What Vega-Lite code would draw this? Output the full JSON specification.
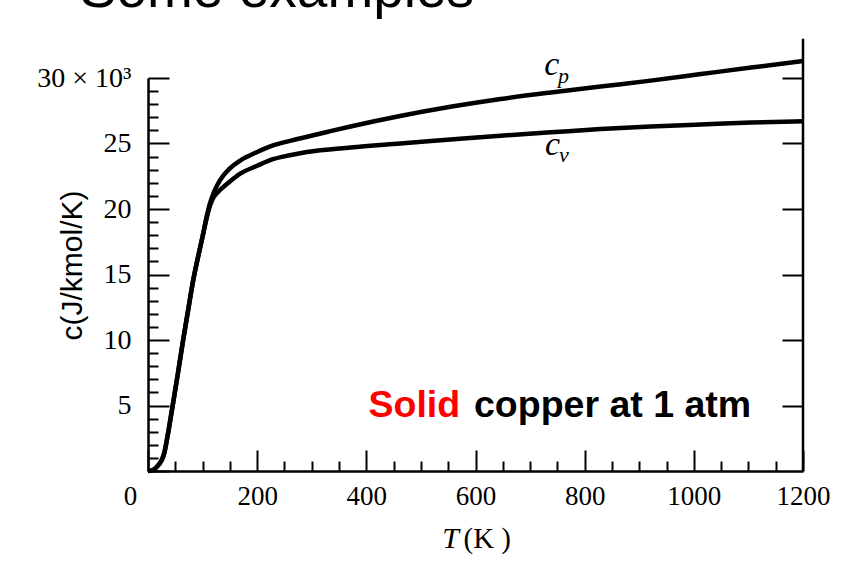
{
  "$schema": "https://vega.github.io/schema/vega-lite/v6.json",
  "autosize": {"type": "none"},
  "width": 655,
  "height": 393,
  "padding": {"left": 148, "top": 78, "right": 49, "bottom": 93},
  "background": "white",
  "config": {"view": {"stroke": null}},
  "datasets": {
    "curves": [
      {"T": 0, "c": 0, "s": "cp"}, {"T": 10, "c": 0.1, "s": "cp"}, {"T": 20, "c": 0.5, "s": "cp"}, {"T": 26, "c": 0.9, "s": "cp"}, {"T": 30, "c": 1.4, "s": "cp"}, {"T": 36, "c": 2.7, "s": "cp"}, {"T": 46, "c": 5.2, "s": "cp"}, {"T": 55, "c": 7.5, "s": "cp"}, {"T": 64, "c": 9.9, "s": "cp"}, {"T": 74, "c": 12.4, "s": "cp"}, {"T": 83, "c": 14.6, "s": "cp"}, {"T": 92, "c": 16.4, "s": "cp"}, {"T": 100, "c": 17.9, "s": "cp"}, {"T": 108, "c": 19.5, "s": "cp"}, {"T": 114, "c": 20.5, "s": "cp"},
      {"T": 121, "c": 21.3, "s": "cp"}, {"T": 132, "c": 22.2, "s": "cp"}, {"T": 150, "c": 23.1, "s": "cp"}, {"T": 169, "c": 23.7, "s": "cp"}, {"T": 200, "c": 24.35, "s": "cp"}, {"T": 229, "c": 24.85, "s": "cp"}, {"T": 260, "c": 25.2, "s": "cp"}, {"T": 290, "c": 25.5, "s": "cp"}, {"T": 330, "c": 25.9, "s": "cp"}, {"T": 371, "c": 26.3, "s": "cp"}, {"T": 462, "c": 27.1, "s": "cp"}, {"T": 554, "c": 27.8, "s": "cp"}, {"T": 646, "c": 28.4, "s": "cp"}, {"T": 738, "c": 28.9, "s": "cp"}, {"T": 829, "c": 29.35, "s": "cp"}, {"T": 921, "c": 29.8, "s": "cp"}, {"T": 1013, "c": 30.3, "s": "cp"}, {"T": 1105, "c": 30.8, "s": "cp"}, {"T": 1200, "c": 31.3, "s": "cp"},
      {"T": 0, "c": 0, "s": "cv"}, {"T": 10, "c": 0.1, "s": "cv"}, {"T": 20, "c": 0.5, "s": "cv"}, {"T": 26, "c": 0.9, "s": "cv"}, {"T": 30, "c": 1.4, "s": "cv"}, {"T": 36, "c": 2.7, "s": "cv"}, {"T": 46, "c": 5.2, "s": "cv"}, {"T": 55, "c": 7.5, "s": "cv"}, {"T": 64, "c": 9.9, "s": "cv"}, {"T": 74, "c": 12.4, "s": "cv"}, {"T": 83, "c": 14.6, "s": "cv"}, {"T": 92, "c": 16.4, "s": "cv"}, {"T": 100, "c": 17.9, "s": "cv"}, {"T": 108, "c": 19.4, "s": "cv"}, {"T": 114, "c": 20.3, "s": "cv"},
      {"T": 119, "c": 20.8, "s": "cv"}, {"T": 125, "c": 21.15, "s": "cv"}, {"T": 132, "c": 21.45, "s": "cv"}, {"T": 150, "c": 22.1, "s": "cv"}, {"T": 169, "c": 22.7, "s": "cv"}, {"T": 200, "c": 23.3, "s": "cv"}, {"T": 229, "c": 23.8, "s": "cv"}, {"T": 260, "c": 24.1, "s": "cv"}, {"T": 291, "c": 24.35, "s": "cv"}, {"T": 371, "c": 24.7, "s": "cv"}, {"T": 462, "c": 25.0, "s": "cv"}, {"T": 554, "c": 25.3, "s": "cv"}, {"T": 646, "c": 25.6, "s": "cv"}, {"T": 738, "c": 25.85, "s": "cv"}, {"T": 829, "c": 26.1, "s": "cv"}, {"T": 921, "c": 26.3, "s": "cv"}, {"T": 1013, "c": 26.45, "s": "cv"}, {"T": 1105, "c": 26.6, "s": "cv"}, {"T": 1200, "c": 26.7, "s": "cv"}
    ],
    "frame": [{"T": 1200, "c": 0, "c2": 33}],
    "notes": [
      {"T": 404, "c": 4.12, "text": "Solid", "kind": "red"},
      {"T": 1105, "c": 4.12, "text": "copper at 1 atm", "kind": "bold"},
      {"T": 740, "c": 30.2, "text": "c", "kind": "sym"},
      {"T": 741, "c": 24.1, "text": "c", "kind": "sym"},
      {"T": 761, "c": 29.6, "text": "p", "kind": "sub"},
      {"T": 762, "c": 23.6, "text": "v", "kind": "sub"},
      {"T": 539, "c": -5.88, "text": "T", "kind": "ital"},
      {"T": 578, "c": -5.88, "text": "(K )", "kind": "roman"},
      {"T": -125, "c": 35.45, "text": "Some examples", "kind": "heading"}
    ]
  },
  "layer": [
    {
      "data": {"name": "curves"},
      "mark": {"type": "line", "color": "black", "strokeWidth": 4.5, "interpolate": "monotone", "clip": false},
      "encoding": {
        "x": {
          "field": "T", "type": "quantitative",
          "scale": {"domain": [0, 1200], "nice": false, "zero": false},
          "axis": {
            "values": [0, 50, 100, 150, 200, 250, 300, 350, 400, 450, 500, 550, 600, 650, 700, 750, 800, 850, 900, 950, 1000, 1050, 1100, 1150, 1200],
            "format": "d",
            "labelExpr": "datum.value % 200 == 0 ? datum.label : ''",
            "labelOffset": {"condition": {"test": "datum.value == 0", "value": -18}, "value": 0},
            "tickSize": {"condition": {"test": "datum.value % 200 == 0", "value": -21}, "value": -10},
            "tickColor": "black", "tickWidth": 2,
            "domainColor": "black", "domainWidth": 2.5,
            "labelFont": "Liberation Serif", "labelFontSize": 27, "labelColor": "black",
            "labelPadding": 33, "labelBound": false, "labelFlush": false, "labelOverlap": false,
            "grid": false, "title": null
          }
        },
        "y": {
          "field": "c", "type": "quantitative",
          "scale": {"domain": [0, 30], "nice": false},
          "axis": {
            "values": [0, 1, 2, 3, 4, 5, 6, 7, 8, 9, 10, 11, 12, 13, 14, 15, 16, 17, 18, 19, 20, 21, 22, 23, 24, 25, 26, 27, 28, 29, 30],
            "labelExpr": "datum.value == 30 ? '30   ×   10³' : (datum.value % 5 == 0 && datum.value > 0 ? datum.label : '')",
            "tickSize": {"condition": {"test": "datum.value % 5 == 0", "value": -21}, "value": -10},
            "tickColor": "black", "tickWidth": 2,
            "domainColor": "black", "domainWidth": 2.5,
            "labelFont": "Liberation Serif", "labelFontSize": 28, "labelColor": "black",
            "labelPadding": 38, "labelBound": false, "labelFlush": false, "labelOverlap": false,
            "grid": false,
            "title": "c(J/kmol/K)",
            "titleFont": "Liberation Sans", "titleFontSize": 30, "titleFontWeight": "normal", "titleColor": "black",
            "titleX": -76, "titleY": 187, "titleAngle": 270, "titleAlign": "center", "titleBaseline": "middle"
          }
        },
        "detail": {"field": "s"}
      }
    },
    {
      "data": {"name": "frame"},
      "mark": {"type": "rule", "color": "black", "strokeWidth": 2.5, "clip": false},
      "encoding": {
        "x": {"field": "T", "type": "quantitative", "axis": null},
        "y": {
          "field": "c", "type": "quantitative",
          "axis": {
            "orient": "right", "values": [5, 10, 15, 20, 25, 30], "labels": false, "domain": false,
            "tickSize": -21, "tickColor": "black", "tickWidth": 2, "grid": false, "title": null
          }
        },
        "y2": {"field": "c2"}
      }
    },
    {
      "data": {"name": "notes"},
      "transform": [{"filter": "datum.kind == 'red'"}],
      "mark": {"type": "text", "align": "left", "baseline": "alphabetic", "font": "Liberation Sans", "fontWeight": "bold", "fontSize": 37.5, "color": "#ff0000", "clip": false},
      "encoding": {"x": {"field": "T", "type": "quantitative", "axis": null}, "y": {"field": "c", "type": "quantitative", "axis": null}, "text": {"field": "text"}}
    },
    {
      "data": {"name": "notes"},
      "transform": [{"filter": "datum.kind == 'bold'"}],
      "mark": {"type": "text", "align": "right", "baseline": "alphabetic", "font": "Liberation Sans", "fontWeight": "bold", "fontSize": 37.5, "color": "black", "clip": false},
      "encoding": {"x": {"field": "T", "type": "quantitative", "axis": null}, "y": {"field": "c", "type": "quantitative", "axis": null}, "text": {"field": "text"}}
    },
    {
      "data": {"name": "notes"},
      "transform": [{"filter": "datum.kind == 'sym'"}],
      "mark": {"type": "text", "align": "center", "baseline": "alphabetic", "font": "Liberation Serif", "fontStyle": "italic", "fontSize": 34, "color": "black", "clip": false},
      "encoding": {"x": {"field": "T", "type": "quantitative", "axis": null}, "y": {"field": "c", "type": "quantitative", "axis": null}, "text": {"field": "text"}}
    },
    {
      "data": {"name": "notes"},
      "transform": [{"filter": "datum.kind == 'sub'"}],
      "mark": {"type": "text", "align": "center", "baseline": "alphabetic", "font": "Liberation Serif", "fontStyle": "italic", "fontSize": 22, "color": "black", "clip": false},
      "encoding": {"x": {"field": "T", "type": "quantitative", "axis": null}, "y": {"field": "c", "type": "quantitative", "axis": null}, "text": {"field": "text"}}
    },
    {
      "data": {"name": "notes"},
      "transform": [{"filter": "datum.kind == 'ital'"}],
      "mark": {"type": "text", "align": "left", "baseline": "alphabetic", "font": "Liberation Serif", "fontStyle": "italic", "fontSize": 30, "color": "black", "clip": false},
      "encoding": {"x": {"field": "T", "type": "quantitative", "axis": null}, "y": {"field": "c", "type": "quantitative", "axis": null}, "text": {"field": "text"}}
    },
    {
      "data": {"name": "notes"},
      "transform": [{"filter": "datum.kind == 'roman'"}],
      "mark": {"type": "text", "align": "left", "baseline": "alphabetic", "font": "Liberation Serif", "fontSize": 29, "color": "black", "clip": false},
      "encoding": {"x": {"field": "T", "type": "quantitative", "axis": null}, "y": {"field": "c", "type": "quantitative", "axis": null}, "text": {"field": "text"}}
    },
    {
      "data": {"name": "notes"},
      "transform": [{"filter": "datum.kind == 'heading'"}],
      "mark": {"type": "text", "align": "left", "baseline": "alphabetic", "font": "Liberation Sans", "fontSize": 55, "color": "black", "clip": false},
      "encoding": {"x": {"field": "T", "type": "quantitative", "axis": null}, "y": {"field": "c", "type": "quantitative", "axis": null}, "text": {"field": "text"}}
    }
  ],
  "resolve": {"axis": {"x": "independent", "y": "independent"}}
}
